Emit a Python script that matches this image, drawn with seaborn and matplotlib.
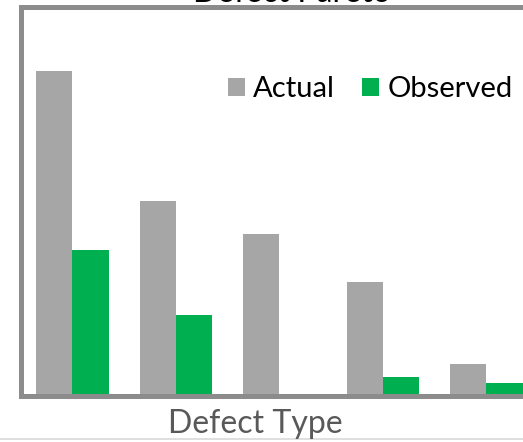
import matplotlib
matplotlib.use("Agg")
import matplotlib.pyplot as plt
import seaborn as sns
import pandas as pd
from matplotlib.patches import Patch
from matplotlib.lines import Line2D

categories = ["A", "B", "C", "D", "E"]
actual = [100, 60, 50, 35, 10]
observed = [45, 25, 0, 6, 4]
series_names = ["Actual", "Observed"]
colors = ["#A6A6A6", "#00B050"]

df = pd.DataFrame({
    "Defect": categories * 2,
    "Count": actual + observed,
    "Series": [series_names[0]] * len(categories) + [series_names[1]] * len(categories),
})

sns.set_style("white")
plt.rcParams["font.family"] = ["Lato", "DejaVu Sans"]

W, H = 523, 442
fig = plt.figure(figsize=(W / 100, H / 100), dpi=100)
ax = fig.add_axes([20.5 / W, 1 - 396 / H, (538.25 - 20.5) / W, (396 - 6.5) / H])

sns.barplot(data=df, x="Defect", y="Count", hue="Series", palette=colors,
            width=0.7, gap=0, ax=ax, legend=False, saturation=1, linewidth=0)

ax.set_xlim(-0.5, 4.5)
ax.set_ylim(0, 120)
ax.set_xticks([])
ax.set_yticks([])
ax.set_ylabel("")
ax.set_xlabel("")
for side in ["left", "top", "bottom"]:
    ax.spines[side].set_visible(True)
    ax.spines[side].set_color("#8C8C8C")
    ax.spines[side].set_linewidth(3.6)
ax.spines["right"].set_visible(False)

fig.text(255.5 / W, 1 - 433 / H, "Defect Type", ha="center", va="baseline",
         fontsize=23, color="#595959")
fig.text(292 / W, 1 - 2.5 / H, "Defect Pareto", ha="center", va="baseline",
         fontsize=23, color="#000000")

handles = [Patch(facecolor=c, edgecolor="none") for c in colors]
leg = fig.legend(handles, series_names, loc="center left",
                 bbox_to_anchor=(228 / W, 1 - 89 / H), ncol=2, frameon=False,
                 fontsize=21, handlelength=0.58, handleheight=0.58,
                 handletextpad=0.27, columnspacing=0.95, borderpad=0, borderaxespad=0,
                 labelcolor="#000000")

fig.add_artist(Line2D([0, 1], [1 - 439 / H, 1 - 439 / H], transform=fig.transFigure,
                      color="#D9D9D9", linewidth=1.2))

fig.savefig("out.png", dpi=100)
